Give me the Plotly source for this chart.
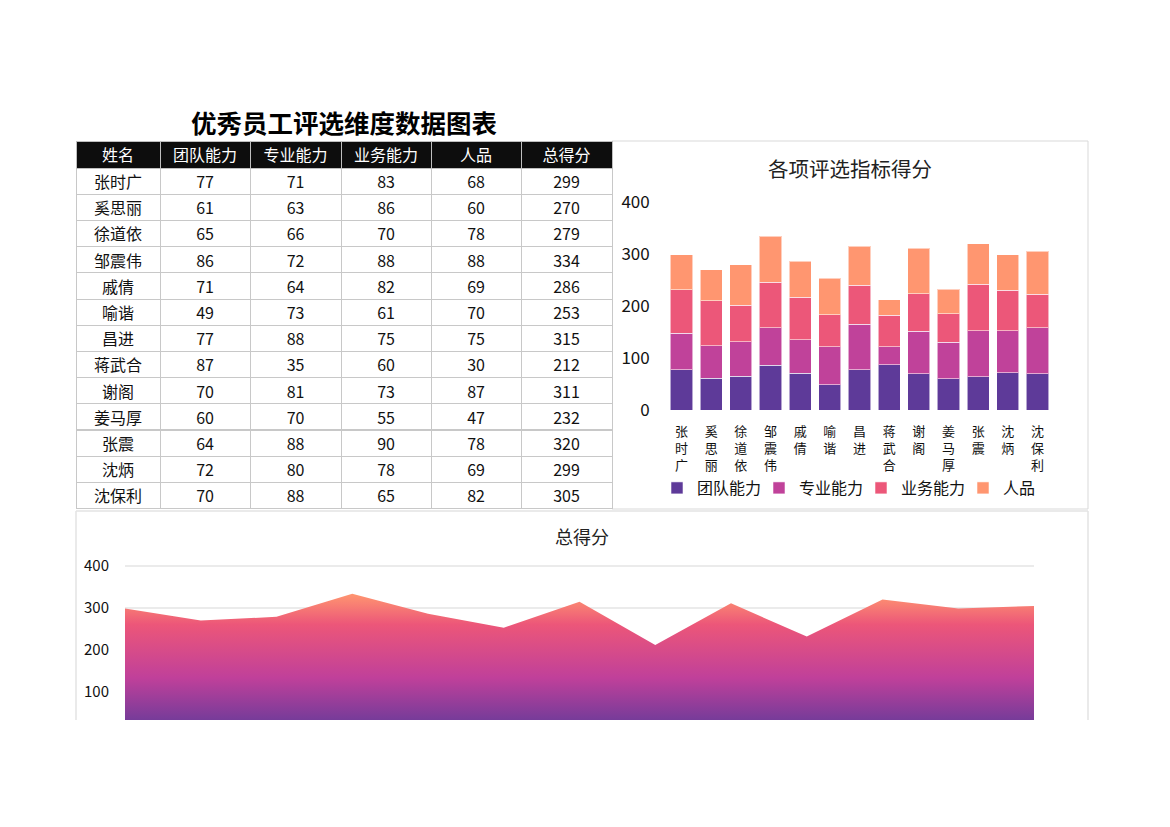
import plotly.graph_objects as go

names = ["张时广", "奚思丽", "徐道依", "邹震伟", "戚倩", "喻谐", "昌进", "蒋武合", "谢阁", "姜马厚", "张震", "沈炳", "沈保利"]
team = [77, 61, 65, 86, 71, 49, 77, 87, 70, 60, 64, 72, 70]
prof = [71, 63, 66, 72, 64, 73, 88, 35, 81, 70, 88, 80, 88]
biz = [83, 86, 70, 88, 82, 61, 75, 60, 73, 55, 90, 78, 65]
char = [68, 60, 78, 88, 69, 70, 75, 30, 87, 47, 78, 69, 82]
total = [299, 270, 279, 334, 286, 253, 315, 212, 311, 232, 320, 299, 305]
headers = ["姓名", "团队能力", "专业能力", "业务能力", "人品", "总得分"]
series_names = ["团队能力", "专业能力", "业务能力", "人品"]
colors = ["#5E3A99", "#C0429A", "#EC5779", "#FF9670"]

W, H = 1170, 827
FONT = "Noto Sans CJK SC"

def px(x):
    return x / W

def py(y):
    return 1 - y / H

fig = go.Figure()

# Table
fig.add_trace(go.Table(
    domain=dict(x=[px(76), px(612)], y=[py(509), py(141)]),
    columnwidth=[84, 90, 91, 90, 90, 91],
    header=dict(values=headers, fill_color="#0d0d0d", line_color="#bfbfbf",
                font=dict(color="white", size=16, family=FONT), align="center", height=27),
    cells=dict(values=[names, team, prof, biz, char, total], fill_color="white",
               line_color="#c8c8c8", font=dict(color="#111111", size=16, family=FONT),
               align="center", height=26.2),
))

# Stacked bars
for nm, vals, c in zip(series_names, [team, prof, biz, char], colors):
    fig.add_trace(go.Bar(x=names, y=vals, name=nm, marker=dict(color=c, line=dict(color="rgba(255,255,255,0.55)", width=1)),
                         xaxis="x", yaxis="y", showlegend=True))

# Area chart
fig.add_trace(go.Scatter(
    x=names, y=total, mode="none", fill="tozeroy", showlegend=False,
    fillgradient=dict(type="vertical", start=0, stop=334,
                      colorscale=[[0, "#5E3A99"], [0.4, "#C0409A"], [0.78, "#EC5679"], [1, "#FF9670"]]),
    xaxis="x2", yaxis="y2",
))

fig.update_layout(
    width=W, height=H, autosize=False,
    margin=dict(l=0, r=0, t=0, b=0, autoexpand=False),
    paper_bgcolor="white", plot_bgcolor="white",
    font=dict(family=FONT, color="#111111"),
    barmode="stack", bargap=0.25,
    xaxis=dict(domain=[px(666.7), px(1052.3)], anchor="y", automargin=False,
               tickvals=names, ticktext=["<br>".join(n) for n in names],
               tickfont=dict(size=13, family=FONT), showline=False, showgrid=False,
               ticks="", ticklabelstandoff=12),
    yaxis=dict(domain=[py(410), py(202)], anchor="x", range=[0, 400], dtick=100, automargin=False,
               showgrid=False, zeroline=False, showline=False, ticks="",
               tickfont=dict(size=17, family=FONT), ticklabelstandoff=16),
    xaxis2=dict(domain=[px(125), px(1034)], anchor="y2", range=[0, 12], automargin=False,
                showticklabels=False, showgrid=False, showline=False, ticks="", zeroline=False),
    yaxis2=dict(domain=[py(720), py(556)], anchor="x2", range=[33.3, 423.8], automargin=False,
                tickvals=[100, 200, 300, 400], showgrid=True, gridcolor="#ebebeb", gridwidth=1.5,
                zeroline=False, showline=False, ticks="",
                tickfont=dict(size=15, family=FONT), ticklabelstandoff=15),
    legend=dict(orientation="h", x=px(861), y=py(488), xanchor="center", yanchor="middle",
                font=dict(size=16, family=FONT), itemwidth=30, traceorder="normal",
                entrywidth=57, bgcolor="rgba(0,0,0,0)"),
    annotations=[
        dict(text="<b>优秀员工评选维度数据图表</b>", x=px(344), y=py(121), xref="paper", yref="paper",
             showarrow=False, font=dict(size=25.5, family=FONT, color="#000000"), xanchor="center", yanchor="middle"),
        dict(text="各项评选指标得分", x=px(850), y=py(168), xref="paper", yref="paper",
             showarrow=False, font=dict(size=20.5, family=FONT, color="#222222"), xanchor="center", yanchor="middle"),
        dict(text="总得分", x=px(582), y=py(536), xref="paper", yref="paper",
             showarrow=False, font=dict(size=18, family=FONT, color="#222222"), xanchor="center", yanchor="middle"),
    ],
    shapes=[
        dict(type="rect", xref="paper", yref="paper", x0=px(612), x1=px(1088), y0=py(509), y1=py(141),
             line=dict(color="#d9d9d9", width=1), layer="below"),
        dict(type="line", xref="paper", yref="paper", x0=px(76), x1=px(1088), y0=py(511), y1=py(511),
             line=dict(color="#e3e3e3", width=1.5)),
        dict(type="line", xref="paper", yref="paper", x0=px(76), x1=px(76), y0=py(720), y1=py(511),
             line=dict(color="#e3e3e3", width=1.5)),
        dict(type="line", xref="paper", yref="paper", x0=px(1088), x1=px(1088), y0=py(720), y1=py(511),
             line=dict(color="#e3e3e3", width=1.5)),
    ],
)

fig.write_html("out.html")
